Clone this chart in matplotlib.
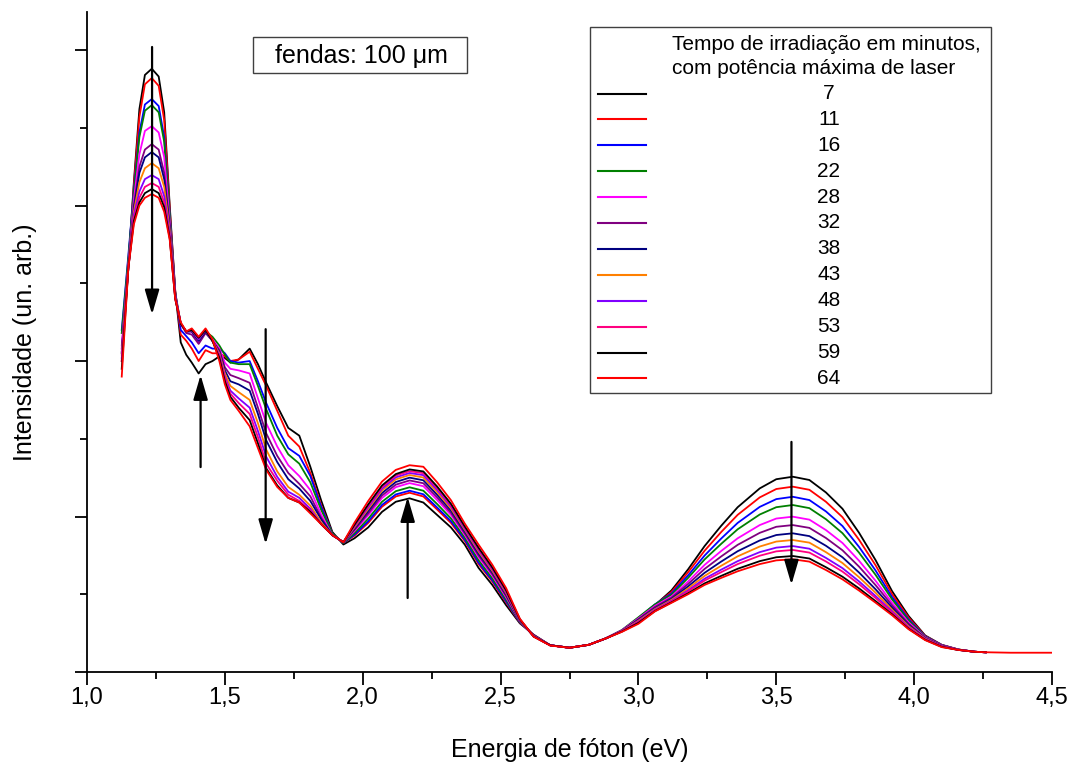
import matplotlib
matplotlib.use("Agg")
import matplotlib.pyplot as plt
from matplotlib.lines import Line2D
from matplotlib.patches import Rectangle
from matplotlib.ticker import FuncFormatter, MultipleLocator

plt.rcParams["font.family"] = ["Liberation Sans", "DejaVu Sans"]

# photon energy (eV); only the 64 min curve runs past 4.26
energy = [1.126, 1.15, 1.17, 1.19, 1.21, 1.235, 1.26, 1.28, 1.30, 1.32,
          1.34, 1.36, 1.38, 1.405, 1.43, 1.455, 1.48, 1.50, 1.52, 1.55,
          1.59, 1.62, 1.65, 1.69, 1.73, 1.77, 1.81, 1.85, 1.89, 1.93,
          1.97, 2.02, 2.07, 2.12, 2.17, 2.22, 2.27, 2.32, 2.37, 2.42,
          2.47, 2.52, 2.57, 2.62, 2.68, 2.75, 2.82, 2.88, 2.94, 3.00,
          3.06, 3.12, 3.18, 3.24, 3.30, 3.36, 3.44, 3.50, 3.56, 3.62,
          3.68, 3.74, 3.80, 3.86, 3.92, 3.98, 4.04, 4.10, 4.16, 4.22,
          4.26, 4.35, 4.50]

s07 = [2.05, 2.62, 3.15, 3.62, 3.84, 3.88, 3.83, 3.60, 3.00, 2.45,
       2.12, 2.04, 1.99, 1.92, 1.98, 2.00, 2.03, 2.02, 1.99, 2.01,
       2.08, 1.98, 1.86, 1.71, 1.57, 1.52, 1.32, 1.10, 0.90, 0.82,
       0.86, 0.93, 1.03, 1.095, 1.117, 1.09, 1.01, 0.93, 0.82, 0.67,
       0.56, 0.43, 0.313, 0.24, 0.172, 0.156, 0.175, 0.215, 0.262, 0.34,
       0.43, 0.525, 0.66, 0.81, 0.94, 1.06, 1.181, 1.24, 1.256, 1.235,
       1.155, 1.05, 0.896, 0.72, 0.52, 0.36, 0.235, 0.175, 0.145, 0.13,
       0.127]
s11 = [2.00, 2.62, 3.13, 3.57, 3.78, 3.82, 3.77, 3.55, 2.98, 2.45,
       2.17, 2.13, 2.08, 2.00, 2.07, 2.05, 2.05, 2.03, 2.00, 2.01,
       2.06, 1.95, 1.84, 1.68, 1.52, 1.45, 1.28, 1.07, 0.89, 0.83,
       0.877, 0.959, 1.063, 1.129, 1.153, 1.129, 1.045, 0.959, 0.843, 0.695,
       0.582, 0.448, 0.318, 0.238, 0.172, 0.156, 0.175, 0.215, 0.264, 0.342,
       0.43, 0.515, 0.641, 0.78, 0.90, 1.011, 1.123, 1.177, 1.192, 1.172,
       1.095, 0.996, 0.851, 0.687, 0.501, 0.35, 0.232, 0.174, 0.145, 0.13,
       0.127]
s16 = [2.20, 2.68, 3.10, 3.47, 3.65, 3.685, 3.64, 3.44, 2.95, 2.44,
       2.20, 2.16, 2.12, 2.05, 2.10, 2.08, 2.08, 2.05, 2.00, 1.99,
       2.00, 1.87, 1.73, 1.57, 1.44, 1.39, 1.26, 1.06, 0.89, 0.83,
       0.883, 0.969, 1.075, 1.142, 1.166, 1.143, 1.058, 0.97, 0.851, 0.704,
       0.59, 0.455, 0.32, 0.236, 0.172, 0.156, 0.175, 0.215, 0.268, 0.348,
       0.435, 0.505, 0.621, 0.749, 0.858, 0.959, 1.062, 1.112, 1.127, 1.106,
       1.033, 0.939, 0.805, 0.653, 0.482, 0.339, 0.229, 0.173, 0.144, 0.13,
       0.127]
s22 = [2.18, 2.66, 3.08, 3.44, 3.61, 3.646, 3.60, 3.41, 2.94, 2.44,
       2.24, 2.19, 2.20, 2.13, 2.19, 2.156, 2.10, 2.04, 1.99, 1.98,
       1.98, 1.84, 1.69, 1.52, 1.40, 1.34, 1.22, 1.04, 0.89, 0.83,
       0.893, 0.986, 1.095, 1.163, 1.188, 1.166, 1.08, 0.988, 0.865, 0.72,
       0.603, 0.466, 0.323, 0.234, 0.172, 0.156, 0.175, 0.215, 0.27, 0.352,
       0.435, 0.497, 0.605, 0.724, 0.824, 0.918, 1.013, 1.06, 1.074, 1.054,
       0.983, 0.893, 0.768, 0.625, 0.467, 0.331, 0.226, 0.172, 0.144, 0.13,
       0.127]
s28 = [2.10, 2.62, 3.04, 3.33, 3.48, 3.511, 3.47, 3.31, 2.90, 2.43,
       2.24, 2.19, 2.19, 2.12, 2.19, 2.14, 2.08, 1.99, 1.95, 1.94,
       1.92, 1.76, 1.60, 1.45, 1.33, 1.26, 1.17, 1.01, 0.88, 0.835,
       0.906, 1.008, 1.119, 1.189, 1.215, 1.195, 1.106, 1.01, 0.882, 0.739,
       0.62, 0.48, 0.327, 0.232, 0.172, 0.156, 0.175, 0.215, 0.268, 0.345,
       0.425, 0.486, 0.582, 0.689, 0.778, 0.86, 0.945, 0.987, 0.999, 0.98,
       0.913, 0.83, 0.716, 0.587, 0.445, 0.319, 0.223, 0.171, 0.144, 0.13,
       0.127]
s32 = [2.08, 2.60, 3.00, 3.25, 3.36, 3.395, 3.36, 3.21, 2.87, 2.42,
       2.24, 2.18, 2.17, 2.11, 2.18, 2.13, 2.07, 1.96, 1.91, 1.89,
       1.86, 1.70, 1.535, 1.39, 1.28, 1.21, 1.13, 0.99, 0.88, 0.835,
       0.914, 1.021, 1.135, 1.205, 1.232, 1.214, 1.123, 1.024, 0.892, 0.751,
       0.63, 0.489, 0.329, 0.232, 0.172, 0.156, 0.175, 0.215, 0.266, 0.34,
       0.418, 0.478, 0.566, 0.663, 0.743, 0.818, 0.895, 0.934, 0.945, 0.927,
       0.862, 0.783, 0.678, 0.559, 0.429, 0.31, 0.22, 0.17, 0.143, 0.13,
       0.127]
s38 = [2.06, 2.60, 2.98, 3.21, 3.31, 3.344, 3.31, 3.17, 2.86, 2.42,
       2.24, 2.19, 2.19, 2.13, 2.19, 2.13, 2.06, 1.94, 1.87, 1.85,
       1.81, 1.66, 1.49, 1.35, 1.24, 1.18, 1.10, 0.98, 0.88, 0.835,
       0.922, 1.036, 1.151, 1.222, 1.25, 1.233, 1.14, 1.039, 0.904, 0.763,
       0.641, 0.498, 0.332, 0.23, 0.172, 0.156, 0.175, 0.215, 0.265, 0.335,
       0.41, 0.47, 0.55, 0.638, 0.71, 0.777, 0.846, 0.881, 0.892, 0.874,
       0.812, 0.738, 0.64, 0.532, 0.414, 0.302, 0.217, 0.168, 0.143, 0.13,
       0.127]
s43 = [2.04, 2.60, 2.96, 3.15, 3.24, 3.273, 3.24, 3.12, 2.84, 2.41,
       2.24, 2.19, 2.20, 2.14, 2.20, 2.13, 2.05, 1.92, 1.84, 1.80,
       1.75, 1.60, 1.43, 1.29, 1.19, 1.14, 1.07, 0.96, 0.88, 0.835,
       0.93, 1.049, 1.167, 1.239, 1.267, 1.251, 1.157, 1.052, 0.915, 0.775,
       0.651, 0.507, 0.334, 0.23, 0.172, 0.156, 0.175, 0.215, 0.264, 0.33,
       0.405, 0.464, 0.537, 0.618, 0.683, 0.744, 0.807, 0.839, 0.849, 0.832,
       0.771, 0.701, 0.61, 0.51, 0.401, 0.295, 0.215, 0.166, 0.143, 0.13,
       0.127]
s48 = [2.02, 2.60, 2.94, 3.09, 3.17, 3.196, 3.17, 3.06, 2.82, 2.41,
       2.24, 2.19, 2.20, 2.14, 2.20, 2.13, 2.04, 1.90, 1.81, 1.76,
       1.70, 1.55, 1.385, 1.255, 1.16, 1.12, 1.05, 0.95, 0.88, 0.835,
       0.937, 1.06, 1.179, 1.252, 1.28, 1.266, 1.171, 1.064, 0.923, 0.785,
       0.66, 0.514, 0.336, 0.23, 0.172, 0.156, 0.175, 0.215, 0.263, 0.325,
       0.40, 0.458, 0.525, 0.60, 0.658, 0.713, 0.771, 0.80, 0.81, 0.793,
       0.734, 0.668, 0.583, 0.489, 0.39, 0.288, 0.212, 0.165, 0.143, 0.13,
       0.127]
s53 = [2.00, 2.60, 2.92, 3.05, 3.12, 3.145, 3.12, 3.02, 2.80, 2.40,
       2.24, 2.19, 2.20, 2.15, 2.20, 2.13, 2.03, 1.89, 1.79, 1.73,
       1.66, 1.51, 1.34, 1.23, 1.14, 1.10, 1.04, 0.95, 0.88, 0.835,
       0.942, 1.07, 1.19, 1.264, 1.292, 1.279, 1.183, 1.074, 0.931, 0.793,
       0.667, 0.52, 0.338, 0.228, 0.172, 0.156, 0.175, 0.215, 0.262, 0.322,
       0.397, 0.454, 0.518, 0.588, 0.642, 0.694, 0.748, 0.776, 0.785, 0.768,
       0.711, 0.646, 0.565, 0.476, 0.382, 0.284, 0.21, 0.164, 0.142, 0.13,
       0.127]
s59 = [1.95, 2.60, 2.90, 3.02, 3.08, 3.106, 3.08, 2.99, 2.79, 2.40,
       2.24, 2.19, 2.20, 2.15, 2.20, 2.13, 2.02, 1.87, 1.77, 1.70,
       1.62, 1.47, 1.31, 1.20, 1.12, 1.09, 1.03, 0.95, 0.88, 0.835,
       0.947, 1.078, 1.20, 1.273, 1.303, 1.29, 1.193, 1.082, 0.937, 0.80,
       0.673, 0.526, 0.339, 0.228, 0.172, 0.156, 0.175, 0.215, 0.26, 0.316,
       0.392, 0.448, 0.506, 0.57, 0.618, 0.664, 0.713, 0.738, 0.746, 0.73,
       0.674, 0.613, 0.538, 0.456, 0.371, 0.278, 0.207, 0.162, 0.142, 0.13,
       0.127]
s64 = [1.90, 2.60, 2.88, 3.00, 3.05, 3.074, 3.05, 2.96, 2.78, 2.40,
       2.25, 2.19, 2.21, 2.156, 2.21, 2.14, 2.00, 1.85, 1.75, 1.68,
       1.58, 1.44, 1.30, 1.19, 1.12, 1.09, 1.02, 0.95, 0.88, 0.835,
       0.96, 1.10, 1.225, 1.30, 1.33, 1.32, 1.22, 1.105, 0.955, 0.82,
       0.69, 0.54, 0.343, 0.227, 0.17, 0.156, 0.175, 0.215, 0.258, 0.31,
       0.39, 0.445, 0.50, 0.56, 0.605, 0.648, 0.694, 0.718, 0.725, 0.71,
       0.656, 0.596, 0.524, 0.446, 0.365, 0.275, 0.205, 0.16, 0.142, 0.13,
       0.127, 0.124, 0.124]

minutes = ["7", "11", "16", "22", "28", "32", "38", "43", "48", "53", "59", "64"]
series = [s07, s11, s16, s22, s28, s32, s38, s43, s48, s53, s59, s64]
colors = ["#000000", "#ff0000", "#0000ff", "#008000", "#ff00ff", "#800080",
          "#000080", "#ff8000", "#8000ff", "#ff0080", "#000000", "#ff0000"]

# arrows: (energy, tail, head)
arrows = [(1.236, 4.02, 2.30), (1.412, 1.318, 1.91), (1.648, 2.205, 0.823),
          (2.163, 0.476, 1.125), (3.555, 1.48, 0.562)]

fig = plt.figure(figsize=(10.73, 7.67), dpi=100)
ax = fig.add_axes([87 / 1073, 95 / 767, 965 / 1073, 660 / 767])


def axfrac(px, py):
    # pixel position in the picture -> axes fraction
    return (px - 87) / 965, (672 - py) / 660


for vals, c in zip(series, colors):
    ax.plot(energy[:len(vals)], vals, color=c, lw=1.3)

for e, tail, head in arrows:
    ax.annotate("", xy=(e, head), xytext=(e, tail),
                arrowprops=dict(arrowstyle="-|>,head_length=0.75,head_width=0.22",
                                mutation_scale=20, color="black", lw=1.6,
                                shrinkA=0, shrinkB=0))

ax.set_xlim(1.0, 4.5)
ax.set_ylim(0, 4.245)
for side in ("top", "right"):
    ax.spines[side].set_visible(False)
for side in ("left", "bottom"):
    ax.spines[side].set_linewidth(1.3)

ax.xaxis.set_major_locator(MultipleLocator(0.5))
ax.xaxis.set_minor_locator(MultipleLocator(0.25))
ax.yaxis.set_major_locator(MultipleLocator(1.0))
ax.yaxis.set_minor_locator(MultipleLocator(0.5))
ax.xaxis.set_major_formatter(FuncFormatter(lambda v, p: f"{v:.1f}".replace(".", ",")))
ax.tick_params(which="major", direction="out", length=9, width=1.3, labelsize=17, pad=2)
ax.tick_params(which="minor", direction="out", length=5, width=1.3)
ax.tick_params(axis="y", which="both", labelleft=False)

ax.set_xlabel("Energia de fóton (eV)", fontsize=18)
ax.set_ylabel("Intensidade (un. arb.)", fontsize=18)
ax.xaxis.set_label_coords(0.5, -0.1)
ax.yaxis.set_label_coords(-0.052, 0.5)

# slit box
x0, y1 = axfrac(253, 37)
x1, y0 = axfrac(467, 73)
ax.add_patch(Rectangle((x0, y0), x1 - x0, y1 - y0, transform=ax.transAxes,
                       facecolor="white", edgecolor="#404040", lw=1.0, zorder=5))
tx, ty = axfrac(361, 56)
ax.text(tx, ty, "fendas: 100 μm", transform=ax.transAxes, fontsize=18,
        ha="center", va="center", zorder=6)

# legend drawn by hand to get the centred labels
lx0, ly1 = axfrac(590, 27)
lx1, ly0 = axfrac(991, 393)
ax.add_patch(Rectangle((lx0, ly0), lx1 - lx0, ly1 - ly0, transform=ax.transAxes,
                       facecolor="white", edgecolor="#404040", lw=1.0, zorder=5))
for txt, py in (("Tempo de irradiação em minutos,", 44),
                ("com potência máxima de laser", 69)):
    fx, fy = axfrac(672, py)
    ax.text(fx, fy, txt, transform=ax.transAxes, fontsize=15,
            ha="left", va="center", zorder=6)
for i, (lab, c) in enumerate(zip(minutes, colors)):
    py = 93.5 + i * 25.9
    xa, ya = axfrac(598, py)
    xb, _ = axfrac(646, py)
    ax.add_line(Line2D([xa, xb], [ya, ya], transform=ax.transAxes, color=c,
                       lw=1.5, zorder=6))
    xl, _ = axfrac(829, py)
    ax.text(xl, ya, lab, transform=ax.transAxes, fontsize=15,
            ha="center", va="center", zorder=6)

fig.savefig("out.png", dpi=100)
